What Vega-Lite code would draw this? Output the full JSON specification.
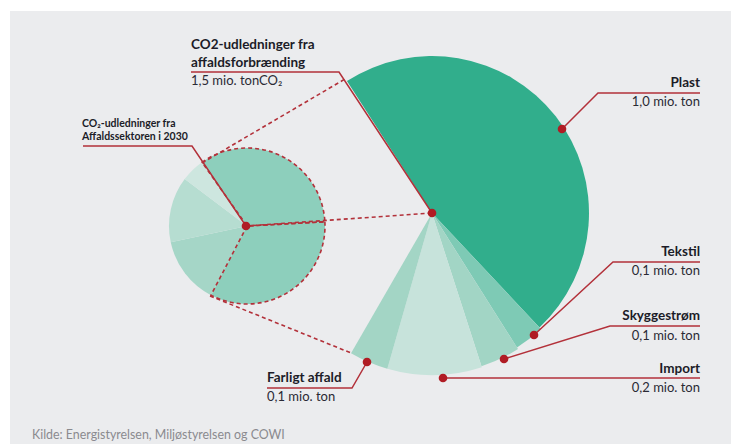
{
  "$schema": "https://vega.github.io/schema/vega-lite/v6.json",
  "width": 731,
  "height": 444,
  "autosize": {"type": "fit", "contains": "padding"},
  "padding": {"left": 10, "top": 11, "right": 0, "bottom": 0},
  "background": "#ffffff",
  "view": {"fill": "#ebecee", "stroke": null},
  "datasets": {
    "slices": [
      {"pie": "big", "slice": "Plast", "cx": 432, "cy": 213, "a0": -32.8, "a1": 136.8, "r": 157},
      {"pie": "big", "slice": "Tekstil", "cx": 432, "cy": 213, "a0": 136.8, "a1": 147.7, "r": 159},
      {"pie": "big", "slice": "Skyggestrøm", "cx": 432, "cy": 213, "a0": 147.7, "a1": 162.1, "r": 161},
      {"pie": "big", "slice": "Import", "cx": 432, "cy": 213, "a0": 162.1, "a1": 196.0, "r": 162},
      {"pie": "big", "slice": "Farligt affald", "cx": 432, "cy": 213, "a0": 196.0, "a1": 210.0, "r": 162},
      {"pie": "small", "slice": "S1", "cx": 247, "cy": 226, "a0": -35.2, "a1": 86.9, "r": 78},
      {"pie": "small", "slice": "S2", "cx": 247, "cy": 226, "a0": 86.9, "a1": 207.5, "r": 78},
      {"pie": "small", "slice": "S3", "cx": 247, "cy": 226, "a0": 207.5, "a1": 257.9, "r": 78},
      {"pie": "small", "slice": "S4", "cx": 247, "cy": 226, "a0": 257.9, "a1": 307.0, "r": 78},
      {"pie": "small", "slice": "S5", "cx": 247, "cy": 226, "a0": 307.0, "a1": 324.8, "r": 78}
    ],
    "leaders": [
      {"id": "co2big", "seq": 1, "x": 191, "y": 72},
      {"id": "co2big", "seq": 2, "x": 339, "y": 72},
      {"id": "co2big", "seq": 3, "x": 432, "y": 213},
      {"id": "co2small", "seq": 1, "x": 83, "y": 146},
      {"id": "co2small", "seq": 2, "x": 192, "y": 146},
      {"id": "co2small", "seq": 3, "x": 246, "y": 226},
      {"id": "plast", "seq": 1, "x": 700, "y": 93},
      {"id": "plast", "seq": 2, "x": 598, "y": 93},
      {"id": "plast", "seq": 3, "x": 562, "y": 129},
      {"id": "tekstil", "seq": 1, "x": 700, "y": 262},
      {"id": "tekstil", "seq": 2, "x": 613, "y": 262},
      {"id": "tekstil", "seq": 3, "x": 534, "y": 335},
      {"id": "skygge", "seq": 1, "x": 700, "y": 326},
      {"id": "skygge", "seq": 2, "x": 610, "y": 326},
      {"id": "skygge", "seq": 3, "x": 504, "y": 359},
      {"id": "import", "seq": 1, "x": 700, "y": 378},
      {"id": "import", "seq": 2, "x": 443, "y": 378},
      {"id": "farligt", "seq": 1, "x": 267, "y": 388},
      {"id": "farligt", "seq": 2, "x": 352, "y": 388},
      {"id": "farligt", "seq": 3, "x": 367, "y": 362}
    ],
    "dashes": [
      {"id": "top", "seq": 1, "x": 202, "y": 163},
      {"id": "top", "seq": 2, "x": 345, "y": 79},
      {"id": "mid", "seq": 1, "x": 246, "y": 226},
      {"id": "mid", "seq": 2, "x": 432, "y": 213},
      {"id": "bot", "seq": 1, "x": 210, "y": 296},
      {"id": "bot", "seq": 2, "x": 351, "y": 353}
    ],
    "dots": [
      {"name": "CO2 affaldsforbrænding", "x": 432, "y": 213},
      {"name": "CO2 affaldssektoren", "x": 246, "y": 226},
      {"name": "Plast", "x": 562, "y": 129},
      {"name": "Tekstil", "x": 534, "y": 335},
      {"name": "Skyggestrøm", "x": 504, "y": 359},
      {"name": "Import", "x": 443, "y": 378},
      {"name": "Farligt affald", "x": 367, "y": 362}
    ],
    "labels": [
      {"kind": "headR", "text": "Plast", "x": 700, "y": 87},
      {"kind": "valR", "text": "1,0 mio. ton", "x": 700, "y": 106},
      {"kind": "headR", "text": "Tekstil", "x": 700, "y": 256},
      {"kind": "valR", "text": "0,1 mio. ton", "x": 700, "y": 275},
      {"kind": "headR", "text": "Skyggestrøm", "x": 700, "y": 320},
      {"kind": "valR", "text": "0,1 mio. ton", "x": 700, "y": 340},
      {"kind": "headR", "text": "Import", "x": 700, "y": 373},
      {"kind": "valR", "text": "0,2 mio. ton", "x": 700, "y": 392},
      {"kind": "headL", "text": "Farligt affald", "x": 267, "y": 382},
      {"kind": "valL", "text": "0,1 mio. ton", "x": 267, "y": 401},
      {"kind": "headL", "text": "CO2-udledninger fra", "x": 191, "y": 49},
      {"kind": "headL", "text": "affaldsforbrænding", "x": 191, "y": 67},
      {"kind": "valL", "text": "1,5 mio. tonCO₂", "x": 191, "y": 85},
      {"kind": "small", "text": "CO₂-udledninger fra", "x": 82, "y": 127},
      {"kind": "small", "text": "Affaldssektoren i 2030", "x": 82, "y": 140},
      {"kind": "source", "text": "Kilde: Energistyrelsen, Miljøstyrelsen og COWI", "x": 32, "y": 439}
    ]
  },
  "encoding": {
    "x": {"field": "x", "type": "quantitative", "axis": null, "scale": {"domain": [10, 731], "nice": false, "zero": false}},
    "y": {"field": "y", "type": "quantitative", "axis": null, "scale": {"domain": [11, 444], "nice": false, "zero": false, "reverse": true}}
  },
  "layer": [
    {
      "data": {"name": "slices"},
      "mark": {"type": "arc", "stroke": null},
      "encoding": {
        "x": {"field": "cx", "type": "quantitative", "axis": null, "scale": {"domain": [10, 731], "nice": false, "zero": false}},
        "y": {"field": "cy", "type": "quantitative", "axis": null, "scale": {"domain": [11, 444], "nice": false, "zero": false, "reverse": true}},
        "theta": {"field": "a0", "type": "quantitative", "stack": null, "scale": {"domain": [0, 360], "range": [0, 6.283185307], "zero": true}},
        "theta2": {"field": "a1"},
        "radius": {"field": "r", "type": "quantitative", "scale": {"type": "linear", "domain": [0, 200], "range": [0, 200], "zero": true}},
        "color": {
          "field": "slice", "type": "nominal", "legend": null,
          "scale": {
            "domain": ["Plast", "Tekstil", "Skyggestrøm", "Import", "Farligt affald", "S1", "S2", "S3", "S4", "S5"],
            "range": ["#31ae8c", "#7ecab5", "#a2d5c5", "#c7e3db", "#a3d5c5", "#8dcfbc", "#8dcfbc", "#a5d6c7", "#b6ddd1", "#cde6df"]
          }
        }
      }
    },
    {
      "data": {"name": "slices"},
      "transform": [{"filter": "datum.slice === 'S1' || datum.slice === 'S2'"}],
      "mark": {"type": "arc", "filled": false, "stroke": "#b3313a", "strokeWidth": 1.6, "strokeDash": [4, 3]},
      "encoding": {
        "x": {"field": "cx", "type": "quantitative"},
        "y": {"field": "cy", "type": "quantitative"},
        "theta": {"field": "a0", "type": "quantitative", "stack": null},
        "theta2": {"field": "a1"},
        "radius": {"field": "r", "type": "quantitative"}
      }
    },
    {
      "data": {"name": "dashes"},
      "mark": {"type": "line", "color": "#b3313a", "strokeWidth": 1.6, "strokeDash": [4, 3]},
      "encoding": {
        "detail": {"field": "id"},
        "order": {"field": "seq", "type": "quantitative"}
      }
    },
    {
      "data": {"name": "leaders"},
      "mark": {"type": "line", "color": "#b3313a", "strokeWidth": 1.5},
      "encoding": {
        "detail": {"field": "id"},
        "order": {"field": "seq", "type": "quantitative"}
      }
    },
    {
      "data": {"name": "dots"},
      "mark": {"type": "point", "filled": true, "opacity": 1, "color": "#b01c24", "size": 75},
      "encoding": {}
    },
    {
      "data": {"name": "labels"},
      "transform": [{"filter": "datum.kind === 'headR'"}],
      "mark": {"type": "text", "align": "right", "baseline": "alphabetic", "font": "Lato", "fontSize": 13.5, "fontWeight": "bold", "color": "#1c1c28"},
      "encoding": {"text": {"field": "text"}}
    },
    {
      "data": {"name": "labels"},
      "transform": [{"filter": "datum.kind === 'valR'"}],
      "mark": {"type": "text", "align": "right", "baseline": "alphabetic", "font": "Lato", "fontSize": 13, "color": "#2a2a34"},
      "encoding": {"text": {"field": "text"}}
    },
    {
      "data": {"name": "labels"},
      "transform": [{"filter": "datum.kind === 'headL'"}],
      "mark": {"type": "text", "align": "left", "baseline": "alphabetic", "font": "Lato", "fontSize": 13.5, "fontWeight": "bold", "color": "#1c1c28"},
      "encoding": {"text": {"field": "text"}}
    },
    {
      "data": {"name": "labels"},
      "transform": [{"filter": "datum.kind === 'valL'"}],
      "mark": {"type": "text", "align": "left", "baseline": "alphabetic", "font": "Lato", "fontSize": 13, "color": "#2a2a34"},
      "encoding": {"text": {"field": "text"}}
    },
    {
      "data": {"name": "labels"},
      "transform": [{"filter": "datum.kind === 'small'"}],
      "mark": {"type": "text", "align": "left", "baseline": "alphabetic", "font": "Lato", "fontSize": 10.5, "fontWeight": "bold", "color": "#1c1c28"},
      "encoding": {"text": {"field": "text"}}
    },
    {
      "data": {"name": "labels"},
      "transform": [{"filter": "datum.kind === 'source'"}],
      "mark": {"type": "text", "align": "left", "baseline": "alphabetic", "font": "Lato", "fontSize": 12.4, "color": "#8a8a8e"},
      "encoding": {"text": {"field": "text"}}
    }
  ]
}
